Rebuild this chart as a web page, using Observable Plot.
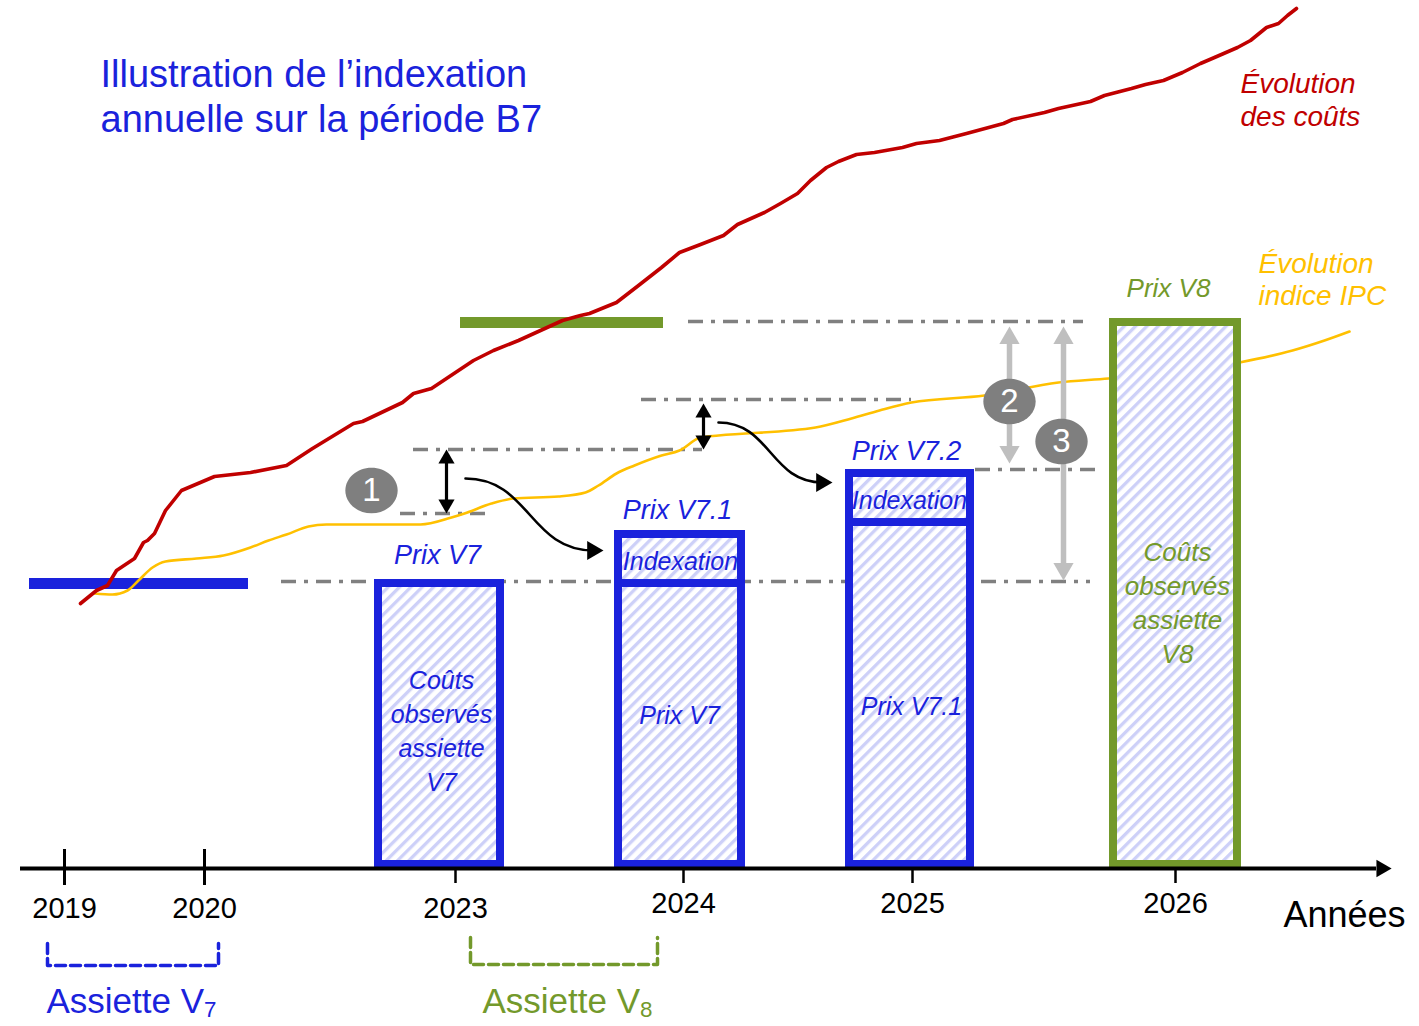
<!DOCTYPE html>
<html>
<head>
<meta charset="utf-8">
<script src="https://cdn.jsdelivr.net/npm/d3@7"></script>
<script src="https://cdn.jsdelivr.net/npm/@observablehq/plot@0.6"></script>
<style>
  html, body { margin: 0; padding: 0; background: #ffffff; }
  #chart svg { display: block; }
</style>
</head>
<body>
<div id="chart"></div>
<script>
// ================= DATA (schematic units: x = position along the time axis, y = price / cost level, 0 = axis) =================
const yearLabels = ["2019", "2020", "2023", "2024", "2025", "2026"];
const yearPos    = [6.4, 20.4, 45.5, 68.3, 91.2, 117.5];
const yearMajor  = [true, true, false, false, false, false];
const axisLabel  = "Années";

// Évolution des coûts (red curve)
const coutsX = [8.0, 9.6, 10.7, 11.6, 13.4, 14.3, 14.7, 15.4, 16.5, 18.1, 21.4, 25.0, 28.6, 31.2, 35.3, 36.2, 40.2, 41.3, 43.1, 44.6,
  47.3, 49.3, 51.8, 56.2, 58.0, 58.9, 61.6, 63.8, 66.1, 67.9, 70.0, 72.3, 73.7, 74.6, 76.4, 78.0, 79.7, 81.0, 82.6, 83.8,
  85.6, 87.4, 90.2, 91.6, 93.9, 96.6, 100.3, 101.2, 104.4, 105.8, 109.0, 110.4, 113.1, 114.5, 116.3, 118.2, 120.0, 121.4,
  123.7, 125.0, 126.6, 127.8, 128.7, 129.6];
const coutsY = [26.5, 27.8, 28.3, 29.8, 31.0, 32.6, 32.8, 33.5, 35.8, 37.8, 39.2, 39.6, 40.3, 42.0, 44.5, 44.7, 46.6, 47.5, 48.0, 49.0,
  50.8, 51.8, 52.8, 54.8, 55.3, 55.5, 56.6, 58.3, 60.1, 61.6, 62.4, 63.3, 64.4, 64.8, 65.6, 66.5, 67.5, 68.8, 70.1, 70.7,
  71.4, 71.6, 72.1, 72.5, 72.8, 73.5, 74.5, 74.9, 75.6, 76.0, 76.7, 77.3, 78.0, 78.4, 78.8, 79.6, 80.5, 81.1,
  82.1, 82.8, 84.1, 84.5, 85.3, 86.0];

// Évolution indice IPC (yellow curve)
const ipcX = [9.4, 11.2, 12.7, 13.8, 15.2, 16.5, 19.6, 22.3, 25.0, 26.8, 28.6, 30.8, 32.6, 42.0, 45.1, 46.4, 49.1, 51.3, 55.8,
  58.5, 59.8, 61.6, 63.4, 66.1, 67.9, 70.0, 71.8, 81.5, 85.1, 87.9, 91.1, 98.4, 105.8, 110.8, 123.9, 129.2, 132.4, 134.9];
const ipcY = [27.5, 27.4, 27.8, 28.8, 30.1, 30.7, 31.0, 31.3, 32.1, 32.8, 33.4, 34.2, 34.4, 34.4, 35.1, 35.5, 36.5, 37.0, 37.2,
  37.6, 38.3, 39.5, 40.3, 41.3, 41.8, 43.1, 43.3, 44.1, 45.0, 45.8, 46.6, 47.3, 48.6, 49.0, 50.6, 51.8, 52.8, 53.7];

// Price levels
const prixV7 = 28.5, prixV8 = 54.6;

// Assiette bars (reference periods shown as thick horizontal bars at the price level)
const assietteVersion = ["V7", "V8"];
const assietteFrom    = [2.9, 46.0];
const assietteTo      = [24.8, 66.3];
const assietteLevel   = [prixV7, prixV8];

// Price boxes
const boxVersion = ["V7", "V7", "V7", "V7", "V7", "V8"];
const boxFrom    = [37.8, 61.8, 61.8, 84.9, 84.9, 111.3];
const boxTo      = [50.0, 74.1, 74.1, 97.0, 97.0, 123.7];
const boxLow     = [0.4, 0.4, prixV7, 0.4, 34.6, 0.4];
const boxHigh    = [prixV7, prixV7, 33.4, 34.6, 39.5, prixV8];

// Dash-dot reference levels
const refLevel = [28.7, 35.5, 41.9, 46.9, 39.9, 54.7];
const refFrom  = [28.1, 40.0, 41.3, 64.1, 97.5, 68.8];
const refTo    = [109.0, 48.8, 70.2, 91.1, 110.0, 108.3];

// Double-headed arrows (black = indexation step, grey = comparisons 2 and 3)
const dblKind = ["noir", "noir", "gris", "gris"];
const dblX    = [44.6, 70.3, 100.9, 106.3];
const dblLow  = [35.5, 41.9, 40.5, 28.8];
const dblHigh = [41.9, 46.5, 54.2, 54.2];

// Curved arrows (indexation carried to next price)
const curveFromX = [46.5, 71.8], curveFromY = [39.0, 44.6];
const curveToX   = [60.3, 83.2], curveToY   = [31.8, 38.6];

// Numbered badges
const badgeText = ["1", "2", "3"];
const badgeX = [37.1, 100.9, 106.1];
const badgeY = [37.8, 46.7, 42.7];

// Labels
const priceLabelText = ["Prix V7", "Prix V7.1", "Prix V7.2"];
const priceLabelX = [43.7, 67.7, 90.6];
const priceLabelY = [31.3, 35.8, 41.7];
const boxLabelText = ["Indexation", "Indexation", "Coûts\nobservés\nassiette\nV7", "Prix V7", "Prix V7.1"];
const boxLabelX = [68.0, 90.9, 44.1, 67.9, 91.1];
const boxLabelY = [30.9, 37.0, 13.9, 15.5, 16.4];
const v8LabelText = ["Prix V8", "Coûts\nobservés\nassiette\nV8"];
const v8LabelX = [116.8, 117.7];
const v8LabelY = [58.2, 26.75];
const coutsLabel = "Évolution\ndes coûts";
const ipcLabel = "Évolution\nindice IPC";
const titleText = "Illustration de l’indexation\nannuelle sur la période B7";

// Assiette brackets (below axis)
const bracketVersion = ["V7", "V8"];
const bracketFrom = [4.7, 47.0];
const bracketTo   = [21.8, 65.7];
const bracketTop  = [-7.5, -6.9];
const bracketBottom = [-9.7, -9.6];
const assietteLabel = ["Assiette V", "Assiette V"];
const assietteSub = ["7", "8"];
const assietteLabelX = [4.6, 48.2];
const assietteLabelY = -13.3;

// ================= STYLE =================
const BLUE = "#1a22dc", GREEN = "#73992b", RED = "#c00000", YELLOW = "#ffc000";
const GREY = "#7f7f7f", LIGHTGREY = "#bfbfbf", HATCH = "#cdd0f8";
const FONT = "'Liberation Sans', Arial, sans-serif";
const versionColor = v => v === "V8" ? GREEN : BLUE;

// ================= TABLES =================
const couts = coutsX.map((x, i) => ({x, y: coutsY[i]}));
const ipc = ipcX.map((x, i) => ({x, y: ipcY[i]}));
const years = yearLabels.map((label, i) => ({label, x: yearPos[i], major: yearMajor[i]}));
const assiettes = assietteVersion.map((v, i) => ({v, x1: assietteFrom[i], x2: assietteTo[i], y: assietteLevel[i]}));
const boxes = boxVersion.map((v, i) => ({v, x1: boxFrom[i], x2: boxTo[i], y1: boxLow[i], y2: boxHigh[i]}));
const refs = refLevel.map((y, i) => ({y, x1: refFrom[i], x2: refTo[i]}));
const dbl = dblKind.map((k, i) => ({k, x: dblX[i], lo: dblLow[i], hi: dblHigh[i]}));
const curves = curveFromX.flatMap((x, i) => [
  {id: i, x, y: curveFromY[i]},
  {id: i, x: curveToX[i] - 1.0, y: curveToY[i]}
]);
const curveHeads = curveToX.map((x, i) => ({x, y: curveToY[i]}));
const badges = badgeText.map((t, i) => ({t, x: badgeX[i], y: badgeY[i]}));
const brackets = bracketVersion.flatMap((v, i) => [
  {id: i, v, x: bracketFrom[i], y: bracketTop[i]},
  {id: i, v, x: bracketFrom[i], y: bracketBottom[i]},
  {id: i, v, x: bracketTo[i], y: bracketBottom[i]},
  {id: i, v, x: bracketTo[i], y: bracketTop[i]}
]);
const assietteLabels = assietteLabel.map((t, i) => ({t, v: bracketVersion[i], x: assietteLabelX[i], y: assietteLabelY}));

// ellipse symbol for the numbered badges
const ellipse = {
  draw(ctx, size) {
    const r = Math.sqrt(size / Math.PI), rx = r * 1.09, ry = r * 0.95, k = 0.5523;
    ctx.moveTo(rx, 0);
    ctx.bezierCurveTo(rx, ry * k, rx * k, ry, 0, ry);
    ctx.bezierCurveTo(-rx * k, ry, -rx, ry * k, -rx, 0);
    ctx.bezierCurveTo(-rx, -ry * k, -rx * k, -ry, 0, -ry);
    ctx.bezierCurveTo(rx * k, -ry, rx, -ry * k, rx, 0);
    ctx.closePath();
  }
};

const axisStart = 2.0, axisEnd = 137.6;

const chart = Plot.plot({
  width: 1419,
  height: 1026,
  marginTop: 0, marginRight: 0, marginBottom: 0, marginLeft: 0,
  x: {domain: [0, 141.9], axis: null},
  y: {domain: [-15.8, 86.8], axis: null},
  style: {fontFamily: FONT, background: "#ffffff", overflow: "visible"},
  marks: [
    // dash-dot reference levels
    Plot.ruleY(refs, {y: "y", x1: "x1", x2: "x2", stroke: "#808080", strokeWidth: 3.5, strokeDasharray: "15,8,4,8"}),
    // assiette bars
    Plot.ruleY(assiettes.filter(d => d.v === "V7"), {y: "y", x1: "x1", x2: "x2", stroke: BLUE, strokeWidth: 11}),
    Plot.ruleY(assiettes.filter(d => d.v === "V8"), {y: "y", x1: "x1", x2: "x2", stroke: GREEN, strokeWidth: 11}),
    // curves
    Plot.line(ipc, {x: "x", y: "y", stroke: YELLOW, strokeWidth: 2.6, curve: "monotone-x"}),
    Plot.line(couts, {x: "x", y: "y", stroke: RED, strokeWidth: 3.6, curve: "linear", strokeLinejoin: "round"}),
    // price boxes
    Plot.rect(boxes.filter(d => d.v === "V7"), {x1: "x1", x2: "x2", y1: "y1", y2: "y2", fill: "url(#hatch)", stroke: BLUE, strokeWidth: 8}),
    Plot.rect(boxes.filter(d => d.v === "V8"), {x1: "x1", x2: "x2", y1: "y1", y2: "y2", fill: "url(#hatch)", stroke: GREEN, strokeWidth: 8}),
    // time axis
    Plot.ruleY([0], {x1: axisStart, x2: axisEnd, stroke: "black", strokeWidth: 4}),
    Plot.dot([0], {x: axisEnd + 0.5, y: d => d, symbol: "triangle", r: 6.5, rotate: 90, fill: "black", stroke: "none"}),
    Plot.ruleX(years.filter(d => d.major), {x: "x", y1: -1.7, y2: 1.9, stroke: "black", strokeWidth: 3}),
    Plot.ruleX(years.filter(d => !d.major), {x: "x", y1: -1.5, y2: 0, stroke: "black", strokeWidth: 2.5}),
    Plot.text(years, {x: "x", y: d => d.major || d.label === "2023" ? -4.0 : -3.5, text: "label", fontSize: 29, fill: "black"}),
    Plot.text([axisLabel], {x: 128.3, y: -4.7, text: d => d, textAnchor: "start", fontSize: 36, fill: "black"}),
    // double arrows
    Plot.ruleX(dbl.filter(d => d.k === "noir"), {x: "x", y1: d => d.lo + 0.6, y2: d => d.hi - 0.6, stroke: "black", strokeWidth: 3.2}),
    Plot.dot(dbl.filter(d => d.k === "noir"), {x: "x", y: "hi", symbol: "triangle", r: 6, dy: 9.3, fill: "black", stroke: "none"}),
    Plot.dot(dbl.filter(d => d.k === "noir"), {x: "x", y: "lo", symbol: "triangle", r: 6, rotate: 180, dy: -9.3, fill: "black", stroke: "none"}),
    Plot.ruleX(dbl.filter(d => d.k === "gris"), {x: "x", y1: d => d.lo + 1.0, y2: d => d.hi - 1.0, stroke: LIGHTGREY, strokeWidth: 5.5}),
    Plot.dot(dbl.filter(d => d.k === "gris"), {x: "x", y: "hi", symbol: "triangle", r: 7.5, dy: 11.7, fill: LIGHTGREY, stroke: "none"}),
    Plot.dot(dbl.filter(d => d.k === "gris"), {x: "x", y: "lo", symbol: "triangle", r: 7.5, rotate: 180, dy: -11.7, fill: LIGHTGREY, stroke: "none"}),
    // curved arrows
    Plot.line(curves, {x: "x", y: "y", z: "id", curve: "bump-x", stroke: "black", strokeWidth: 2.6}),
    Plot.dot(curveHeads, {x: "x", y: "y", symbol: "triangle", r: 7, rotate: 90, dx: -10.9, fill: "black", stroke: "none"}),
    // badges
    Plot.dot(badges, {x: "x", y: "y", symbol: ellipse, r: 24, fill: GREY, stroke: "none"}),
    Plot.text(badges, {x: "x", y: "y", text: "t", fill: "white", fontSize: 33}),
    // labels
    Plot.text(priceLabelText.map((t, i) => ({t, x: priceLabelX[i], y: priceLabelY[i]})), {x: "x", y: "y", text: "t", fill: BLUE, fontSize: 27, fontStyle: "italic"}),
    Plot.text(boxLabelText.map((t, i) => ({t, x: boxLabelX[i], y: boxLabelY[i]})), {x: "x", y: "y", text: "t", fill: BLUE, fontSize: 25, fontStyle: "italic", lineHeight: 1.36}),
    Plot.text(v8LabelText.map((t, i) => ({t, x: v8LabelX[i], y: v8LabelY[i]})), {x: "x", y: "y", text: "t", fill: GREEN, fontSize: 26, fontStyle: "italic", lineHeight: 1.3}),
    Plot.text([coutsLabel], {x: 124.0, y: 77.0, text: d => d, textAnchor: "start", fill: RED, fontSize: 28, fontStyle: "italic", lineHeight: 1.18}),
    Plot.text([ipcLabel], {x: 125.8, y: 59.0, text: d => d, textAnchor: "start", fill: YELLOW, fontSize: 28, fontStyle: "italic", lineHeight: 1.15}),
    Plot.text([titleText], {x: 10.0, y: 77.3, text: d => d, textAnchor: "start", fill: BLUE, fontSize: 38, lineHeight: 1.18}),
    // assiette brackets and labels
    Plot.line(brackets.filter(d => d.v === "V7"), {x: "x", y: "y", z: "id", stroke: BLUE, strokeWidth: 3.5, strokeDasharray: "10,5"}),
    Plot.line(brackets.filter(d => d.v === "V8"), {x: "x", y: "y", z: "id", stroke: GREEN, strokeWidth: 3.5, strokeDasharray: "10,5"}),
    Plot.text(assietteLabels, {x: "x", y: "y", text: "t", textAnchor: "start", fill: d => versionColor(d.v), fontSize: 35})
  ]
});

document.getElementById("chart").appendChild(chart);

const svg = d3.select(chart);
svg.insert("defs", ":first-child").html(
  `<pattern id="hatch" patternUnits="userSpaceOnUse" width="8" height="8" patternTransform="rotate(45)">
     <rect width="8" height="8" fill="#ffffff"></rect>
     <rect width="3.3" height="8" fill="${HATCH}"></rect>
   </pattern>`
);
// subscripts of "Assiette V7" / "Assiette V8"
let k = 0;
svg.selectAll("text").each(function() {
  if (this.childNodes.length === 1 && this.textContent === "Assiette V" && k < assietteSub.length) {
    d3.select(this).append("tspan").attr("dy", "0.2em").attr("font-size", "0.64em").text(assietteSub[k++]);
  }
});
</script>
</body>
</html>
